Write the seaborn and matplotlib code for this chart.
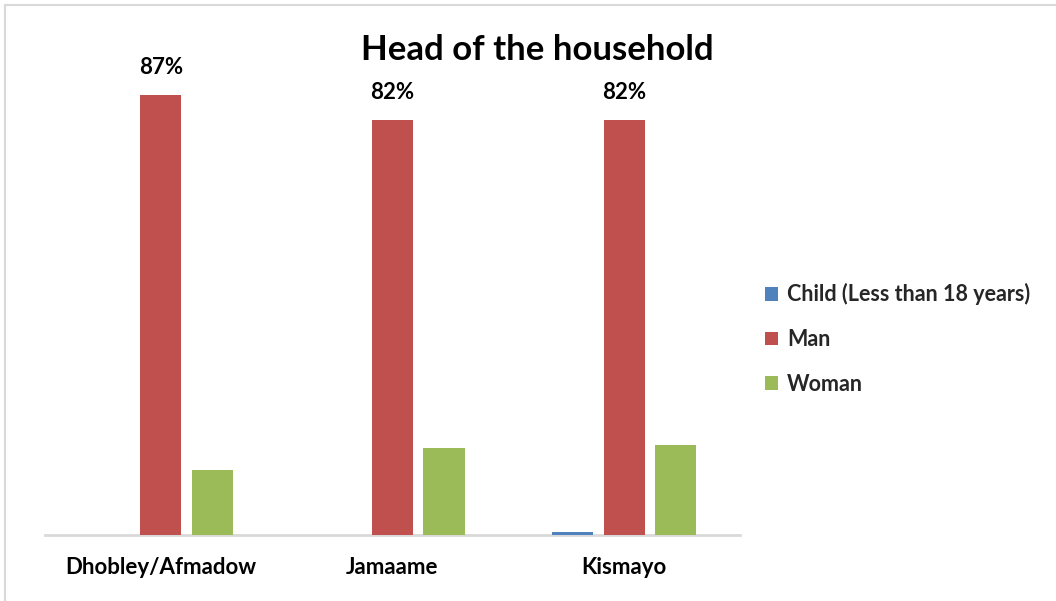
import matplotlib
matplotlib.use("Agg")
import matplotlib.pyplot as plt
from matplotlib.patches import Rectangle
import pandas as pd
import seaborn as sns

regions = ["Dhobley/Afmadow", "Jamaame", "Kismayo"]
categories = ["Child (Less than 18 years)", "Man", "Woman"]
child = [0.0, 0.0, 0.5]
man = [87, 82, 82]
woman = [12.8, 17.2, 17.8]
colors = ["#4F81BD", "#C0504D", "#9BBB59"]

rows = []
for cat, vals in zip(categories, [child, man, woman]):
    for reg, v in zip(regions, vals):
        rows.append({"region": reg, "category": cat, "value": v})
df = pd.DataFrame(rows)

sns.set_theme(style="white")
plt.rcParams["font.family"] = ["Lato", "DejaVu Sans"]

fig = plt.figure(figsize=(10.56, 6.01), dpi=100)
fig.patch.set_facecolor("white")
# light frame around the chart area
fig.patches.append(Rectangle((5 / 1056, -0.01), 1.02, 1 - 5 / 601 + 0.01,
                             transform=fig.transFigure, fill=False,
                             edgecolor="#D9D9D9", linewidth=1.5))

ax = fig.add_axes([45 / 1056, 1 - 535 / 601, 695 / 1056, 506 / 601])
sns.barplot(data=df, x="region", y="value", hue="category",
            palette=colors, saturation=1, width=0.666, gap=0.2,
            linewidth=0, ax=ax)
for patch in ax.patches:
    patch.set_zorder(3)

ax.set_xlim(-0.5, 2.5)
ax.set_ylim(0, 100)
ax.set_xlabel("")
ax.set_ylabel("")
ax.set_yticks([])
for side in ["top", "right", "left"]:
    ax.spines[side].set_visible(False)
ax.spines["bottom"].set_color("#D9D9D9")
ax.spines["bottom"].set_linewidth(2)
ax.spines["bottom"].set_zorder(1)
ax.tick_params(axis="x", length=0, pad=16)
for lbl in ax.get_xticklabels():
    lbl.set_fontsize(16)
    lbl.set_fontweight("bold")
    lbl.set_color("black")

# value labels on the Man bars
man_container = ax.containers[1]
ax.bar_label(man_container, labels=[f"{v}%" for v in man], padding=12,
             fontsize=16, fontweight="bold", color="black")

fig.text(537 / 1056, 1 - 50 / 601, "Head of the household",
         ha="center", va="center", fontsize=25, fontweight="bold",
         color="black")

handles, labels = ax.get_legend_handles_labels()
ax.legend(handles, labels, loc="center left",
          bbox_to_anchor=(746 / 1056, 1 - 339 / 601),
          bbox_transform=fig.transFigure, frameon=False,
          handlelength=0.6, handleheight=0.6, handletextpad=0.4,
          labelspacing=1.1, prop={"size": 15.5, "weight": "bold"})

fig.savefig("out.png", dpi=100)
